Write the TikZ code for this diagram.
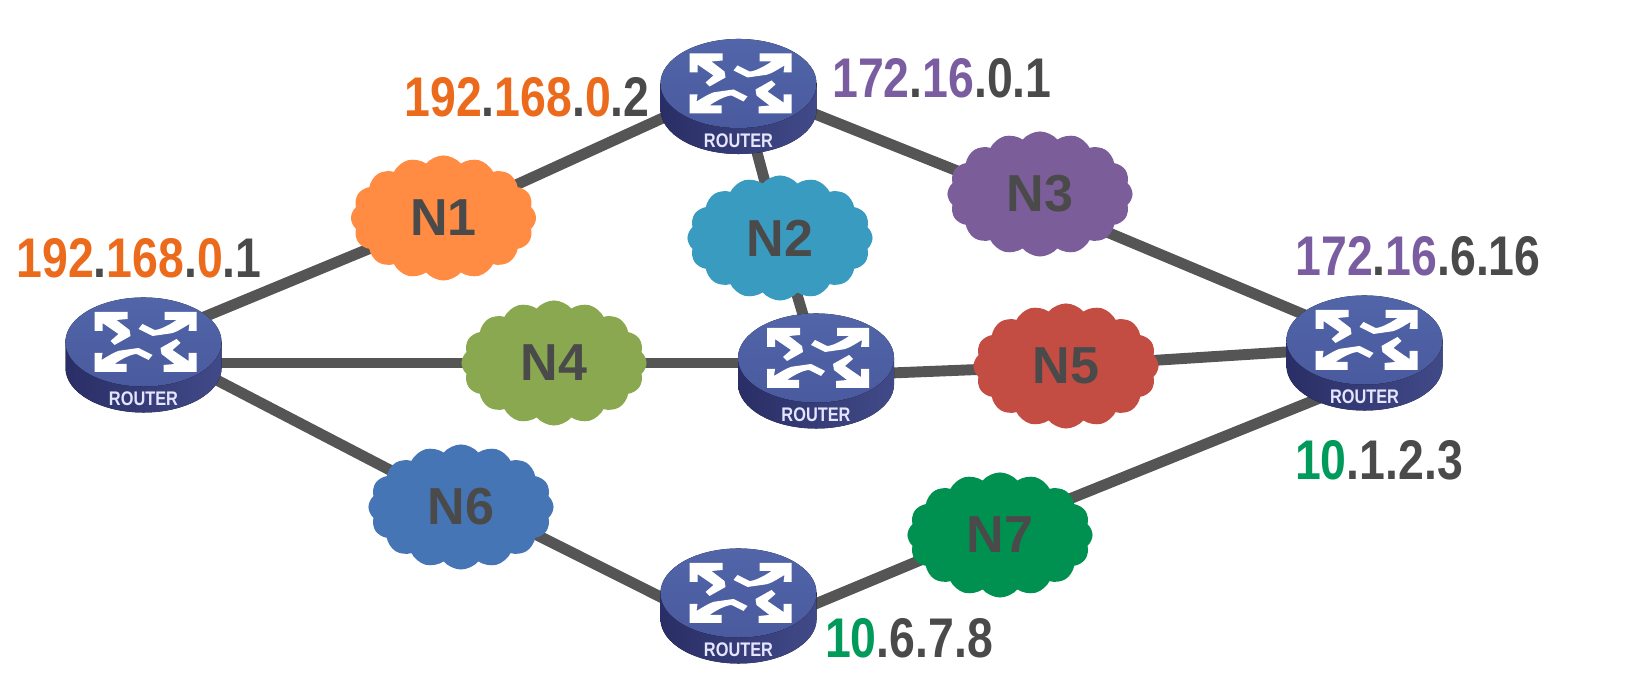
\documentclass[tikz,border=0pt]{standalone}
\usepackage{fontspec}
\setmainfont{Liberation Sans}
\newfontfamily\ipfont[FakeStretch=0.83]{Liberation Sans}
\usetikzlibrary{calc,backgrounds,shapes.symbols}
\definecolor{iporange}{HTML}{EC6A1C}
\definecolor{ippurple}{HTML}{7A5CA0}
\definecolor{ipgreen}{HTML}{009A5A}
\definecolor{txtgray}{HTML}{4A4A4A}
\definecolor{linegray}{HTML}{555555}
\definecolor{cOne}{HTML}{FF8C42}
\definecolor{cTwo}{HTML}{3A9BC1}
\definecolor{cThree}{HTML}{7B5E99}
\definecolor{cFour}{HTML}{8AA850}
\definecolor{cFive}{HTML}{C44D43}
\definecolor{cSix}{HTML}{4675B5}
\definecolor{cSeven}{HTML}{009050}
\definecolor{rTopA}{HTML}{5165A8}
\definecolor{rTopB}{HTML}{4A5A9E}
\definecolor{rSideA}{HTML}{2A2E66}
\definecolor{rSideB}{HTML}{414A88}
\tikzset{
  link/.style={draw=linegray,line width=3.1pt},
  netcloud/.style={cloud,cloud puffs=16,cloud puff arc=100,aspect=1.48,inner sep=0pt,
    minimum width=1.85cm,minimum height=1.25cm,fill=#1,text=txtgray,
    font=\fontsize{14.8}{16}\selectfont\bfseries},
  iplabel/.style={inner sep=0pt,text=txtgray,font=\fontsize{15.9}{18}\ipfont\bfseries},
  router/.pic={
    \coordinate (-c) at (0,0);
    \fill[left color=rSideA,right color=rSideB]
      (-78,0) -- (-78,26) arc[start angle=180,end angle=360,x radius=.78cm,y radius=.445cm] -- (78,0) -- cycle;
    \fill[top color=rTopA,bottom color=rTopB] (0,0) ellipse [x radius=.78cm,y radius=.445cm];
    \foreach \r in {0,180}{
      \fill[white,shift={(2,0)},rotate=\r] (-51,-30) -- (-18,-30) -- (-18,-23) -- (-29,-22) -- (-16,-12)
        -- (-15,-6) -- (-31,3) -- (-35,-1) -- (-27,-8) -- (-43,-19) -- (-43,-11) -- (-51,-11) -- cycle;
      \fill[white,shift={(2,0)},rotate=\r] (51,-30) -- (51,-11) -- (43,-11) -- (44,-18)
        .. controls (34,-12) and (28,-8) .. (21,-8) -- (7,-6) -- (-7,-13) -- (-3,-18) -- (9,-12)
        .. controls (14,-12) and (24,-17) .. (31,-22) -- (19,-22) -- (19,-30) -- cycle;
    }
    \node[inner sep=0pt,text=white!90!blue,font=\fontsize{5.6}{6}\ipfont\bfseries] (-txt) at (0,57) {ROUTER};
  }
}
\begin{document}
\begin{tikzpicture}[x=.01cm,y=-.01cm]
  \useasboundingbox (0,0) rectangle (1638,680);
  % routers
  \foreach \name/\x/\y in {r1/143.5/342,r2/816/358,r3/738.5/83.5,r4/1364.5/340,r5/738.5/593}
    \pic (\name) at (\x,\y) {router};
  % clouds
  \foreach \name/\x/\y/\col/\txt in {n1/443.5/218/cOne/N1,n2/780/238/cTwo/N2,n3/1040/194/cThree/N3,
      n4/554/363/cFour/N4,n5/1066/366/cFive/N5,n6/461/507/cSix/N6,n7/1000/535/cSeven/N7}
    \node[netcloud=\col] (\name) at (\x,\y) {\txt};
  % links
  \begin{scope}[on background layer]
    \draw[link] (r1-c) -- (n1.center) -- (r3-c);
    \draw[link] (r3-c) -- (n2.center) -- (r2-c);
    \draw[link] (r3-c) -- ($(n3.center)+(0,10)$) -- (r4-c);
    \draw[link] (r1-c |- n4.center) -- (n4.center) -- (r2-c |- n4.center);
    \draw[link] ($(r2-c)+(0,18)$) -- (n5.center) -- ($(r4-c)+(0,7)$);
    \draw[link] (r1-c) -- (n6.center);
    \draw[link] ($(n6.center)+(0,-10)$) -- ($(r5-c)+(0,43)$);
    \draw[link] ($(r5-c)+(0,43)$) -- ($(n7.center)+(0,-8)$) -- ($(r4-c)+(0,40)$);
  \end{scope}
  % addresses
  \node[iplabel] (ip1) at (139,258) {\textcolor{iporange}{192}.\textcolor{iporange}{168}.\textcolor{iporange}{0}.1};
  \node[iplabel] (ip2) at (527,97) {\textcolor{iporange}{192}.\textcolor{iporange}{168}.\textcolor{iporange}{0}.2};
  \node[iplabel] (ip3) at (942,78) {\textcolor{ippurple}{172}.\textcolor{ippurple}{16}.0.1};
  \node[iplabel] (ip4) at (1418,256) {\textcolor{ippurple}{172}.\textcolor{ippurple}{16}.6.16};
  \node[iplabel] (ip5) at (1379,460) {\textcolor{ipgreen}{10}.1.2.3};
  \node[iplabel] (ip6) at (909,638) {\textcolor{ipgreen}{10}.6.7.8};
\end{tikzpicture}
\end{document}
